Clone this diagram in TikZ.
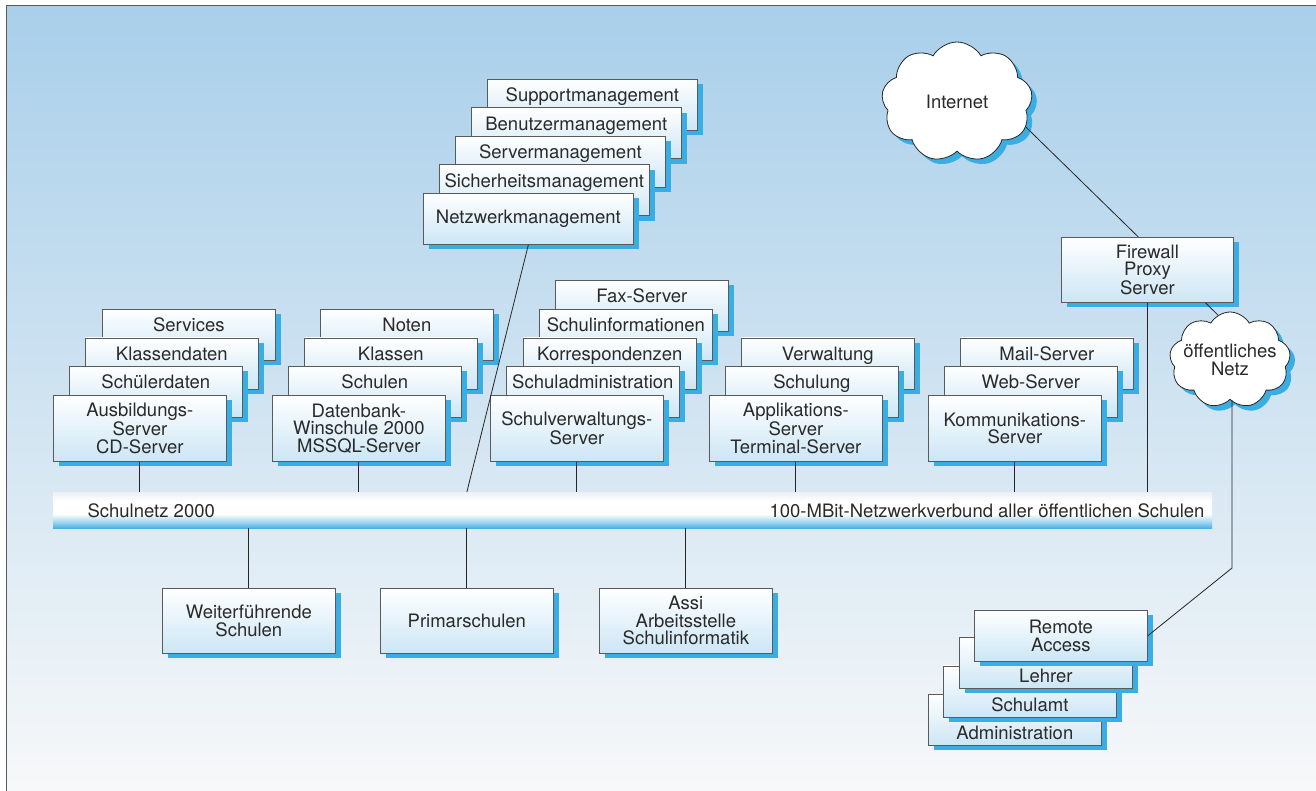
\documentclass[tikz,border=0pt]{standalone}
\usepackage{fontspec}
\setmainfont{TeX Gyre Heros}
\usetikzlibrary{shapes.symbols,shadows}

\definecolor{rahmen}{HTML}{5A5A5A}
\definecolor{boxblau}{HTML}{CCE6F5}
\definecolor{schattenblau}{HTML}{3AAEE3}
\definecolor{schrift}{HTML}{2A2A2A}
\definecolor{hgoben}{HTML}{A9CFEA}
\definecolor{hgmitte}{HTML}{D4E3EE}
\definecolor{hgunten}{HTML}{F7F8F9}
\definecolor{busblau}{HTML}{48B0E3}
\definecolor{busmitte}{HTML}{A5D7F1}
\definecolor{busoben}{HTML}{ECF1F5}

\newcommand\schrift{\fontsize{18.5pt}{17.5pt}\selectfont}

\pgfdeclareverticalshading{busverlauf}{100bp}{color(0bp)=(busblau); color(25bp)=(busblau);
  color(34bp)=(busmitte); color(45bp)=(white); color(62bp)=(white); color(75bp)=(busoben); color(100bp)=(busoben)}

\tikzset{
  kasten/.style={draw=rahmen, line width=0.7pt, top color=white, bottom color=boxblau,
    anchor=north west, inner sep=0pt, align=center, font=\schrift, text=schrift,
    minimum width=173pt,
    drop shadow={shadow xshift=6pt, shadow yshift=-5pt, fill=schattenblau, opacity=1}},
  vorne/.style={kasten, minimum height=66pt},
  hinten/.style={kasten, minimum height=51pt, text height=22.5pt, text depth=28.5pt},
  unten/.style={kasten, minimum height=51pt, text height=45.5pt, text depth=5.5pt},
  breit/.style={minimum width=210pt},
  wolke/.style={cloud, cloud puffs=9, cloud puff arc=120, cloud ignores aspect,
    draw=black!85, line width=0.8pt,
    fill=white, align=center, font=\schrift, text=schrift,
    drop shadow={shadow xshift=5pt, shadow yshift=-5pt, fill=schattenblau, opacity=1}},
  netzbus/.style={anchor=north west, inner sep=0pt, shading=busverlauf,
    minimum width=1159pt, minimum height=36pt},
  linie/.style={draw=black!85, line width=0.8pt}
}

\begin{document}
\begin{tikzpicture}[x=1pt,y=-1pt]
        \useasboundingbox (0,0) rectangle (1316,791);
        \fill[top color=hgoben, middle color=hgmitte, bottom color=hgunten] (6,6) rectangle (1316,791);
        \draw[rahmen, line width=1pt] (6,791) -- (6,6) -- (1316,6);

        \node[hinten, breit] (supp) at (487,79) {Supportmanagement};
        \node[hinten, breit] (benu) at (471,107.5) {Benutzermanagement};
        \node[hinten, breit] (serv) at (455,136) {Servermanagement};
        \node[hinten, breit] (sich) at (439,164.5) {Sicherheitsmanagement};
        \node[kasten, breit, minimum height=51pt] (netz) at (423,193) {Netzwerkmanagement};

        \node[hinten] (serv1) at (102,309) {Services};
        \node[hinten] (klda) at (85,337.5) {Klassendaten};
        \node[hinten] (schda) at (69,366) {Schülerdaten};
        \node[vorne] (ausb) at (53,395) {Ausbildungs-\\Server\\CD-Server};

        \node[hinten] (note) at (320,309) {Noten};
        \node[hinten] (klas) at (304,337.5) {Klassen};
        \node[hinten] (schu) at (288,366) {Schulen};
        \node[vorne] (dbk) at (272,395) {Datenbank-\\Winschule 2000\\MSSQL-Server};

        \node[hinten] (fax) at (555,280) {Fax-Server};
        \node[hinten] (sinf) at (539,309) {Schulinformationen};
        \node[hinten] (korr) at (523,337.5) {Korrespondenzen};
        \node[hinten] (sadm) at (506,366) {Schuladministration};
        \node[vorne] (sv) at (490,395) {Schulverwaltungs-\\Server};

        \node[hinten] (verw) at (741,337.5) {Verwaltung};
        \node[hinten] (schl) at (725,366) {Schulung};
        \node[vorne] (app) at (709,395) {Applikations-\\Server\\Terminal-Server};

        \node[hinten] (mail) at (960,337.5) {Mail-Server};
        \node[hinten] (web) at (944,366) {Web-Server};
        \node[vorne] (komm) at (928,395) {Kommunikations-\\Server};

        \node[wolke, inner sep=0pt, minimum width=151pt, minimum height=120pt] (inet) at (957,102) {Internet};
        \node[kasten, minimum width=172pt, minimum height=65pt] (fw) at (1061,237) {Firewall\\Proxy\\Server};
        \node[wolke, inner xsep=-24pt, inner ysep=-8pt, minimum width=121pt, minimum height=96pt] (oeff) at (1230,360) {öffentliches\\Netz};

        \node[netzbus] (bus) at (53,492) {};
        \node[font=\schrift, text=schrift, anchor=base west] (busl) at (84,517) {Schulnetz 2000};
        \node[font=\schrift, text=schrift, anchor=base east] (busr) at (1208,517) {100-MBit-Netzwerkverbund aller öffentlichen Schulen};

        \node[kasten, minimum height=65pt] (weit) at (162,588) {Weiterführende\\Schulen};
        \node[kasten, minimum height=65pt] (prim) at (380,588) {Primarschulen};
        \node[kasten, minimum height=65pt] (assi) at (599,588) {Assi\\Arbeitsstelle\\Schulinformatik};

        \node[unten] (admi) at (928,694) {Administration};
        \node[unten] (samt) at (943,665.5) {Schulamt};
        \node[unten] (lehr) at (959,637) {Lehrer};
        \node[kasten, minimum height=51pt] (remo) at (974,610) {Remote\\Access};

        \draw[linie] (netz.south) -- (prim.north |- bus.north);
        \draw[linie] (ausb.south) -- (ausb.south |- bus.north);
        \draw[linie] (dbk.south) -- (dbk.south |- bus.north);
        \draw[linie] (sv.south) -- (sv.south |- bus.north);
        \draw[linie] (app.south) -- (app.south |- bus.north);
        \draw[linie] (komm.south) -- (komm.south |- bus.north);
        \draw[linie] (fw.south) -- (fw.south |- bus.north);

        \draw[linie] (bus.south -| weit.north) -- (weit.north);
        \draw[linie] (bus.south -| prim.north) -- (prim.north);
        \draw[linie] (bus.south -| assi.north) -- (assi.north);

        \draw[linie] (inet.-20) -- ([xshift=-9pt]fw.north);
        \draw[linie] ([xshift=58pt]fw.south) -- (oeff.105);
        \coordinate (knick) at (1232,568);
        \draw[linie] (oeff.south -| knick) -- (knick) -- (remo.east);
\end{tikzpicture}
\end{document}
